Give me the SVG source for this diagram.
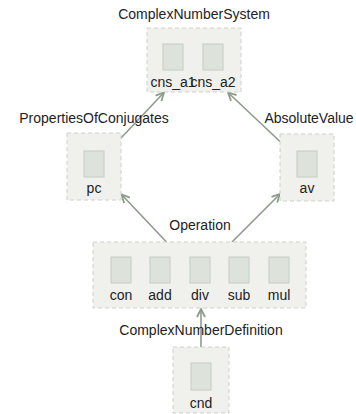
<svg xmlns="http://www.w3.org/2000/svg" width="356" height="414" viewBox="0 0 356 414">
  <style>
    .box { fill: #f0f1ed; stroke: #cdd0ca; stroke-width: 1; stroke-dasharray: 4 3; }
    .slot { fill: #dde3db; stroke: #c4ccc1; stroke-width: 1; }
    .title { font-family: "Liberation Sans", Arial, sans-serif; font-size: 14px; fill: #222; text-anchor: middle; }
    .lbl { font-family: "Liberation Sans", Arial, sans-serif; font-size: 14px; fill: #222; text-anchor: middle; }
    .edge { stroke: #8d9b8a; stroke-width: 1.6; fill: none; marker-end: url(#head); }
  </style>
  <defs>
    <marker id="head" viewBox="0 0 10 10" refX="9" refY="5" markerWidth="10" markerHeight="10" markerUnits="userSpaceOnUse" orient="auto">
      <path d="M1,1 L9,5 L1,9" fill="none" stroke="#8d9b8a" stroke-width="1.8" stroke-linejoin="miter"/>
    </marker>
  </defs>
  <rect width="356" height="414" fill="#ffffff"/>

  <g id="edges">
    <line class="edge" x1="201" y1="347" x2="201" y2="309"/>
    <line class="edge" x1="166.5" y1="242" x2="121.5" y2="194.5"/>
    <line class="edge" x1="232" y1="242" x2="280" y2="194"/>
    <line class="edge" x1="121" y1="138" x2="164" y2="92.5"/>
    <line class="edge" x1="280" y1="141.5" x2="228" y2="92.5"/>
  </g>

  <g id="ComplexNumberSystem">
    <rect class="box" x="147" y="28" width="94" height="64"/>
    <text class="title" x="194" y="19">ComplexNumberSystem</text>
    <rect class="slot" x="163" y="44" width="20" height="26"/>
    <rect class="slot" x="203" y="44" width="20" height="26"/>
    <text class="lbl" x="173" y="87">cns_a1</text>
    <text class="lbl" x="213" y="87">cns_a2</text>
  </g>

  <g id="PropertiesOfConjugates">
    <rect class="box" x="67" y="133" width="54" height="67"/>
    <text class="title" x="94" y="123">PropertiesOfConjugates</text>
    <rect class="slot" x="84" y="151" width="20" height="26"/>
    <text class="lbl" x="94" y="193">pc</text>
  </g>

  <g id="AbsoluteValue">
    <rect class="box" x="280" y="134" width="54" height="67"/>
    <text class="title" x="309" y="123">AbsoluteValue</text>
    <rect class="slot" x="297" y="151" width="20" height="26"/>
    <text class="lbl" x="307" y="193">av</text>
  </g>

  <g id="Operation">
    <rect class="box" x="93" y="242" width="213" height="66"/>
    <text class="title" x="200" y="230">Operation</text>
    <rect class="slot" x="111" y="257" width="20" height="26"/>
    <rect class="slot" x="150" y="257" width="20" height="26"/>
    <rect class="slot" x="190" y="257" width="20" height="26"/>
    <rect class="slot" x="229" y="257" width="20" height="26"/>
    <rect class="slot" x="269" y="257" width="20" height="26"/>
    <text class="lbl" x="121" y="300">con</text>
    <text class="lbl" x="160" y="300">add</text>
    <text class="lbl" x="200" y="300">div</text>
    <text class="lbl" x="239" y="300">sub</text>
    <text class="lbl" x="279" y="300">mul</text>
  </g>

  <g id="ComplexNumberDefinition">
    <rect class="box" x="173" y="347" width="56" height="66"/>
    <text class="title" x="201" y="335">ComplexNumberDefinition</text>
    <rect class="slot" x="191" y="363" width="20" height="27"/>
    <text class="lbl" x="201" y="408">cnd</text>
  </g>
</svg>
